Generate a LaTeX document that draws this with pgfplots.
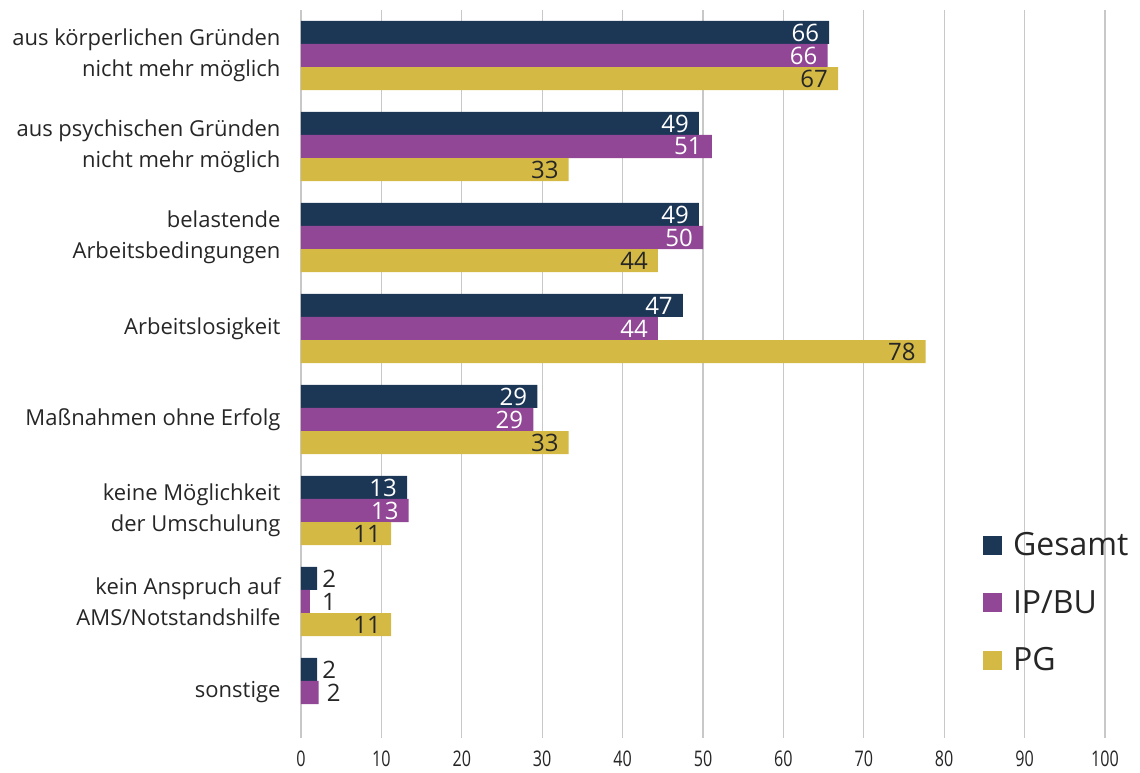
\documentclass[border=0pt]{standalone}
\usepackage{fontspec}
\setmainfont{Open Sans}
\newfontfamily\tickfont[FakeStretch=0.75]{Open Sans}
\usepackage{pgfplots}
\pgfplotsset{compat=1.18}
\definecolor{cG}{HTML}{1C3656}
\definecolor{cI}{HTML}{914696}
\definecolor{cP}{HTML}{D4B944}
\definecolor{txt}{HTML}{262626}
\definecolor{gridc}{HTML}{C8C8C8}
\begin{document}
\begin{tikzpicture}
\begin{axis}[
  name=ax,
  scale only axis,
  width=804pt, height=728pt,
  xbar,
  xmin=0, xmax=100,
  ymin=-0.5, ymax=7.5,
  y dir=reverse,
  bar width=0.253,
  axis line style={draw=none},
  xtick={0,10,...,100},
  ytick={0,...,7},
  yticklabels={{aus körperlichen Gründen\\nicht mehr möglich},{aus psychischen Gründen\\nicht mehr möglich},{belastende\\Arbeitsbedingungen},{Arbeitslosigkeit},{Maßnahmen ohne Erfolg},{keine Möglichkeit\\der Umschulung},{kein Anspruch auf\\AMS/Notstandshilfe},{sonstige}},
  yticklabel style={align=right, font=\fontsize{22}{31}\selectfont, text=txt, xshift=-17pt},
  xticklabel style={font=\tickfont\fontsize{21.5}{22}\selectfont, text=txt, yshift=-9pt},
  /pgf/number format/assume math mode=true,
  major tick length=0pt,
  xmajorgrids,
  major grid style={draw=gridc, line width=1.3pt},
  legend style={draw=none, fill=none, at={(rel axis cs:0.848,0.285)}, anchor=north west,
    font=\fontsize{32}{33}\selectfont, text=txt, row sep=29pt, inner sep=0pt,
    /tikz/every odd column/.append style={column sep=9pt}},
  legend cell align=left,
  legend image code/.code={\fill[#1] (0pt,-9.5pt) rectangle (19pt,9.5pt);},
]
% bars
\addplot[fill=cG, draw=none, bar shift=-0.253] coordinates {(65.7,0) (49.5,1) (49.5,2) (47.5,3) (29.4,4) (13.2,5) (2.0,6) (2.0,7)};
\addlegendentry{Gesamt}
\addplot[fill=cI, draw=none, bar shift=0] coordinates {(65.5,0) (51.1,1) (50.0,2) (44.4,3) (28.9,4) (13.4,5) (1.1,6) (2.2,7)};
\addlegendentry{IP/BU}
\addplot[fill=cP, draw=none, bar shift=0.253] coordinates {(66.8,0) (33.3,1) (44.4,2) (77.7,3) (33.3,4) (11.2,5) (11.2,6)};
\addlegendentry{PG}
% labels inside
\addplot[forget plot, draw=none, fill=none, bar shift=-0.253, point meta=explicit symbolic,
  nodes near coords, nodes near coords style={anchor=east, inner sep=0pt, xshift=-10pt, text=white, font=\fontsize{24}{24}\selectfont}]
  coordinates {(65.7,0) [66] (49.5,1) [49] (49.5,2) [49] (47.5,3) [47] (29.4,4) [29] (13.2,5) [13]};
\addplot[forget plot, draw=none, fill=none, bar shift=0, point meta=explicit symbolic,
  nodes near coords, nodes near coords style={anchor=east, inner sep=0pt, xshift=-10pt, text=white, font=\fontsize{24}{24}\selectfont}]
  coordinates {(65.5,0) [66] (51.1,1) [51] (50.0,2) [50] (44.4,3) [44] (28.9,4) [29] (13.4,5) [13]};
\addplot[forget plot, draw=none, fill=none, bar shift=0.253, point meta=explicit symbolic,
  nodes near coords, nodes near coords style={anchor=east, inner sep=0pt, xshift=-10pt, text=txt, font=\fontsize{24}{24}\selectfont}]
  coordinates {(66.8,0) [67] (33.3,1) [33] (44.4,2) [44] (77.7,3) [78] (33.3,4) [33] (11.2,5) [11] (11.2,6) [11]};
% labels outside
\addplot[forget plot, draw=none, fill=none, bar shift=-0.253, point meta=explicit symbolic,
  nodes near coords, nodes near coords style={anchor=west, inner sep=0pt, xshift=5pt, text=txt, font=\fontsize{24}{24}\selectfont}]
  coordinates {(2.0,6) [2] (2.0,7) [2]};
\addplot[forget plot, draw=none, fill=none, bar shift=0, point meta=explicit symbolic,
  nodes near coords, nodes near coords style={anchor=west, inner sep=0pt, xshift=12pt, text=txt, font=\fontsize{24}{24}\selectfont}]
  coordinates {(1.1,6) [1]};
\addplot[forget plot, draw=none, fill=none, bar shift=0, point meta=explicit symbolic,
  nodes near coords, nodes near coords style={anchor=west, inner sep=0pt, xshift=8pt, text=txt, font=\fontsize{24}{24}\selectfont}]
  coordinates {(2.2,7) [2]};
\end{axis}
\path ([xshift=-301pt,yshift=-35pt]ax.south west) rectangle ++(1140pt,773pt);
\end{tikzpicture}
\end{document}
